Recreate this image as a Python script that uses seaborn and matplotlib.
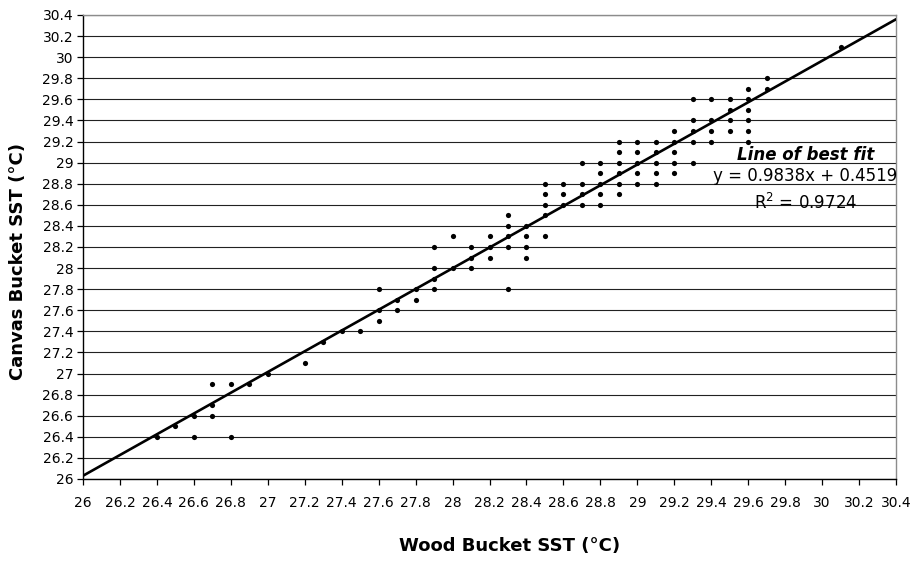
import numpy as np
import pandas as pd
import matplotlib
matplotlib.use("Agg")
import matplotlib.pyplot as plt
from matplotlib.ticker import MultipleLocator, FuncFormatter
import seaborn as sns

# Paired sea surface temperature readings (°C), wood vs canvas bucket
wood_sst = [
    26.4,
    26.5,
    26.6, 26.6,
    26.7, 26.7, 26.7,
    26.8, 26.8,
    26.9,
    27.0,
    27.2,
    27.3,
    27.4,
    27.5,
    27.6, 27.6, 27.6,
    27.7, 27.7,
    27.8, 27.8,
    27.9, 27.9, 27.9, 27.9,
    28.0, 28.0,
    28.1, 28.1, 28.1,
    28.2, 28.2, 28.2,
    28.3, 28.3, 28.3, 28.3, 28.3,
    28.4, 28.4, 28.4, 28.4,
    28.5, 28.5, 28.5, 28.5, 28.5,
    28.6, 28.6, 28.6,
    28.7, 28.7, 28.7, 28.7,
    28.8, 28.8, 28.8, 28.8, 28.8,
    28.9, 28.9, 28.9, 28.9, 28.9, 28.9,
    29.0, 29.0, 29.0, 29.0, 29.0,
    29.1, 29.1, 29.1, 29.1, 29.1,
    29.2, 29.2, 29.2, 29.2, 29.2,
    29.3, 29.3, 29.3, 29.3, 29.3,
    29.4, 29.4, 29.4, 29.4,
    29.5, 29.5, 29.5, 29.5,
    29.6, 29.6, 29.6, 29.6, 29.6, 29.6,
    29.7, 29.7,
    30.1,
]
canvas_sst = [
    26.4,
    26.5,
    26.6, 26.4,
    26.9, 26.7, 26.6,
    26.9, 26.4,
    26.9,
    27.0,
    27.1,
    27.3,
    27.4,
    27.4,
    27.8, 27.6, 27.5,
    27.7, 27.6,
    27.8, 27.7,
    28.2, 28.0, 27.9, 27.8,
    28.3, 28.0,
    28.2, 28.1, 28.0,
    28.3, 28.2, 28.1,
    28.5, 28.4, 28.3, 28.2, 27.8,
    28.4, 28.3, 28.2, 28.1,
    28.8, 28.7, 28.6, 28.5, 28.3,
    28.8, 28.7, 28.6,
    29.0, 28.8, 28.7, 28.6,
    29.0, 28.9, 28.8, 28.7, 28.6,
    29.2, 29.1, 29.0, 28.9, 28.8, 28.7,
    29.2, 29.1, 29.0, 28.9, 28.8,
    29.2, 29.1, 29.0, 28.9, 28.8,
    29.3, 29.2, 29.1, 29.0, 28.9,
    29.6, 29.4, 29.3, 29.2, 29.0,
    29.6, 29.4, 29.3, 29.2,
    29.6, 29.5, 29.4, 29.3,
    29.7, 29.6, 29.5, 29.4, 29.3, 29.2,
    29.8, 29.7,
    30.1,
]

# Least-squares fit reported on the chart
fit_slope = 0.9838
fit_intercept = 0.4519
fit_r2 = 0.9724

axis_min, axis_max = 26.0, 30.4

sns.set_style("ticks")
plt.rcParams["font.family"] = ["DejaVu Sans"]
plt.rcParams["mathtext.default"] = "regular"
plt.rcParams["text.color"] = "black"
plt.rcParams["axes.labelcolor"] = "black"
plt.rcParams["xtick.color"] = "black"
plt.rcParams["ytick.color"] = "black"

df = pd.DataFrame({"wood": wood_sst, "canvas": canvas_sst})
fit_x = np.array([axis_min, axis_max])
fit_df = pd.DataFrame({"wood": fit_x, "canvas": fit_slope * fit_x + fit_intercept})

fig = plt.figure(figsize=(9.13, 5.69), dpi=100)
ax = fig.add_axes([83 / 913, 1 - 479 / 569, 813 / 913, 464 / 569])

sns.lineplot(data=fit_df, x="wood", y="canvas", ax=ax, color="black",
             linewidth=1.9, zorder=3)
sns.scatterplot(data=df, x="wood", y="canvas", ax=ax, color="black",
                s=14, linewidth=0, zorder=4)

ax.set_xlim(axis_min, axis_max)
ax.set_ylim(axis_min, axis_max)
ax.xaxis.set_major_locator(MultipleLocator(0.2))
ax.yaxis.set_major_locator(MultipleLocator(0.2))
fmt = FuncFormatter(lambda v, _: f"{round(v, 1):g}")
ax.xaxis.set_major_formatter(fmt)
ax.yaxis.set_major_formatter(fmt)

ax.yaxis.grid(True, color="#222222", linewidth=0.8)
ax.xaxis.grid(False)
ax.set_axisbelow(True)

for side in ("left", "bottom"):
    ax.spines[side].set_color("black")
    ax.spines[side].set_linewidth(1.0)
for side in ("top", "right"):
    ax.spines[side].set_visible(True)
    ax.spines[side].set_color("#8c8c8c")
    ax.spines[side].set_linewidth(1.0)

ax.tick_params(axis="both", direction="out", length=4, width=0.9,
               color="black", labelcolor="black", labelsize=10, pad=3)
ax.tick_params(axis="x", pad=8)

ax.set_xlabel("Wood Bucket SST (°C)", fontsize=13, fontweight="bold",
              color="black")
ax.set_ylabel("Canvas Bucket SST (°C)", fontsize=13, fontweight="bold",
              color="black")
ax.xaxis.set_label_coords(0.525, -0.125)
ax.yaxis.set_label_coords(-0.069, 0.468)

ax.text(29.91, 29.075, "Line of best fit", ha="center", va="center",
        fontsize=12, fontweight="bold", fontstyle="italic", color="black")
ax.text(29.91, 28.87, f"y = {fit_slope}x + {fit_intercept}", ha="center",
        va="center", fontsize=12, color="black")
ax.text(29.91, 28.615, f"R$^2$ = {fit_r2}", ha="center", va="center",
        fontsize=12, color="black")

fig.savefig("out.png", dpi=100)
